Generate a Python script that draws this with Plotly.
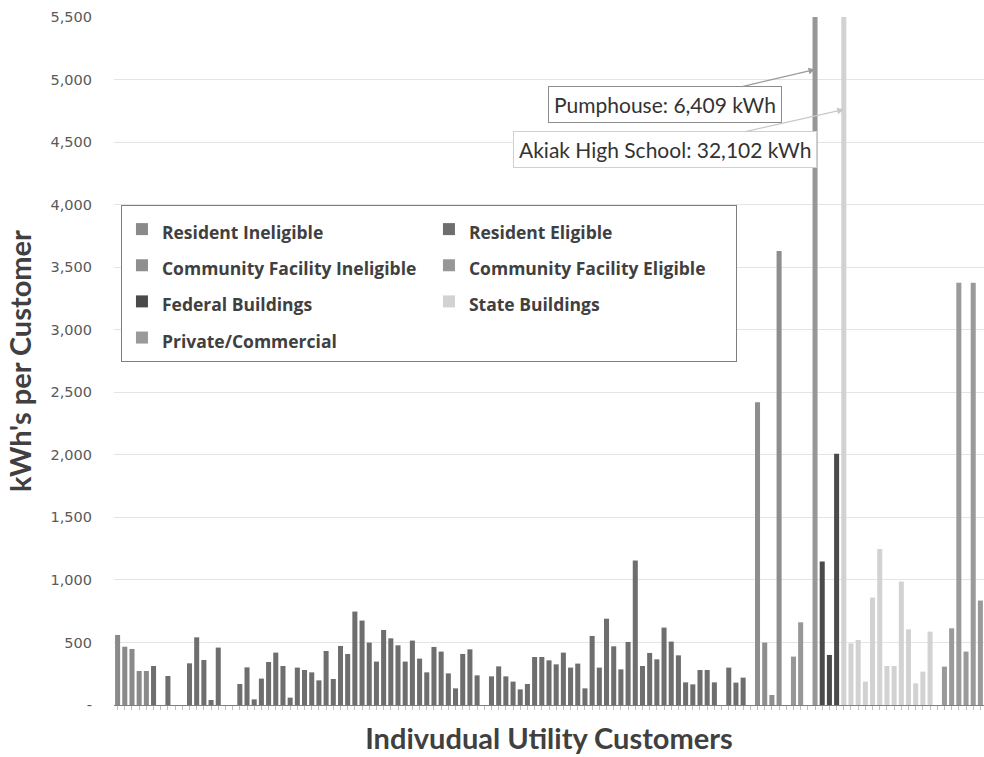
import plotly.graph_objects as go

# ---- data (kWh per customer, customers ordered by category) ----
series_names = [
    "Resident Ineligible", "Resident Eligible",
    "Community Facility Ineligible", "Community Facility Eligible",
    "Federal Buildings", "State Buildings", "Private/Commercial",
]
series_colors = ["#8a8a8a", "#6e6e6e", "#8e8e8e", "#979797", "#4a4a4a", "#d2d2d2", "#9a9a9a"]

resident_ineligible = [560, 466, 448, 272, 272]
resident_eligible = [312, 0, 232, 0, 0, 333, 541, 360, 40, 459,
                     0, 0, 168, 301, 45, 211, 344, 419, 312, 59,
                     299, 280, 261, 197, 432, 208, 472, 408, 747, 675,
                     499, 347, 600, 533, 477, 347, 515, 371, 261, 464,
                     427, 253, 133, 408, 445, 237, 0, 229, 309, 229,
                     187, 125, 168, 384, 384, 357, 325, 419, 299, 331,
                     133, 552, 299, 690, 469, 285, 504, 1155, 312, 416,
                     365, 619, 507, 397, 181, 165, 280, 280, 181, 0,
                     299, 179, 219, 0]
community_ineligible = [2420, 499, 80, 3630, 0]
community_eligible = [387, 661, 0, 6409]
federal_buildings = [1147, 400, 2008]
state_buildings = [32102, 493, 520, 187, 859, 1248, 312, 312, 987, 605, 173, 267, 587, 0]
private_commercial = [307, 613, 3376, 427, 3376, 835]

series_values = [resident_ineligible, resident_eligible, community_ineligible,
                 community_eligible, federal_buildings, state_buildings, private_commercial]

y_ticks = [0, 500, 1000, 1500, 2000, 2500, 3000, 3500, 4000, 4500, 5000, 5500]
y_tick_labels = ["-"] + [f"{v:,}" for v in y_ticks[1:]]

LEGEND_TEXT = "<span style='font-size:17.5px'>{}</span>"

fig = go.Figure()
start = 1
customer_x = {}
for name, color, vals in zip(series_names, series_colors, series_values):
    xs = list(range(start, start + len(vals)))
    customer_x[name] = xs
    fig.add_trace(go.Bar(
        x=xs, y=vals, name=LEGEND_TEXT.format(name),
        hovertemplate=name + "<br>Customer %{x}: %{y:,} kWh<extra></extra>",
        marker=dict(color=color, line=dict(width=0)),
    ))
    start += len(vals)
n_customers = start - 1

pump_x = customer_x["Community Facility Eligible"][3]
akiak_x = customer_x["State Buildings"][0]

fig.update_layout(
    width=984, height=757,
    margin=dict(l=114, r=0, t=17, b=52),
    paper_bgcolor="white", plot_bgcolor="white",
    barmode="overlay", bargap=0.3,
    font=dict(family="Lato", color="#404040"),
    showlegend=True,
    legend=dict(
        orientation="h", x=0.008, y=0.7267, xanchor="left", yanchor="top",
        entrywidth=262, entrywidthmode="pixels",
        bordercolor="#7f7f7f", borderwidth=1, bgcolor="white",
        font=dict(family="Open Sans", size=25.5, color="#404040", weight="bold"),
    ),
    xaxis=dict(
        range=[0.5, n_customers + 0.5],
        tickvals=list(range(1, n_customers + 1)),
        showticklabels=False, ticks="outside", ticklen=4, tickcolor="#bfbfbf",
        showline=True, linecolor="#7f7f7f", linewidth=1,
        showgrid=False, zeroline=False,
        title=dict(text="Indivudual Utility Customers", standoff=19,
                   font=dict(family="Lato", size=29, color="#404040", weight="bold")),
    ),
    yaxis=dict(
        range=[0, 5500], tickvals=y_ticks, ticktext=y_tick_labels,
        tickfont=dict(family="DejaVu Sans", size=14.5, color="#595959"),
        ticklabelstandoff=21,
        showgrid=True, gridcolor="#e4e4e4", gridwidth=1, zeroline=False,
        title=dict(text="kWh's per Customer", standoff=10,
                   font=dict(family="Lato", size=29, color="#404040", weight="bold")),
    ),
    annotations=[
        dict(x=pump_x, y=5080, xref="x", yref="y", text="Pumphouse: 6,409 kWh",
             showarrow=True, ax=-150, ay=35, arrowhead=2, arrowsize=1, arrowwidth=1.3,
             arrowcolor="#9a9a9a", bgcolor="white", bordercolor="#8c8c8c", borderwidth=1,
             borderpad=5, font=dict(family="Lato", size=21, color="#333333")),
        dict(x=akiak_x, y=4760, xref="x", yref="y", text="Akiak High School: 32,102 kWh",
             showarrow=True, ax=-179, ay=40, arrowhead=2, arrowsize=1, arrowwidth=1.3,
             arrowcolor="#c8c8c8", bgcolor="white", bordercolor="#d0d0d0", borderwidth=1,
             borderpad=5, font=dict(family="Lato", size=21, color="#333333")),
    ],
)

fig.write_html("out.html", config={"displayModeBar": False},
               post_script="document.body.style.margin='0';")
